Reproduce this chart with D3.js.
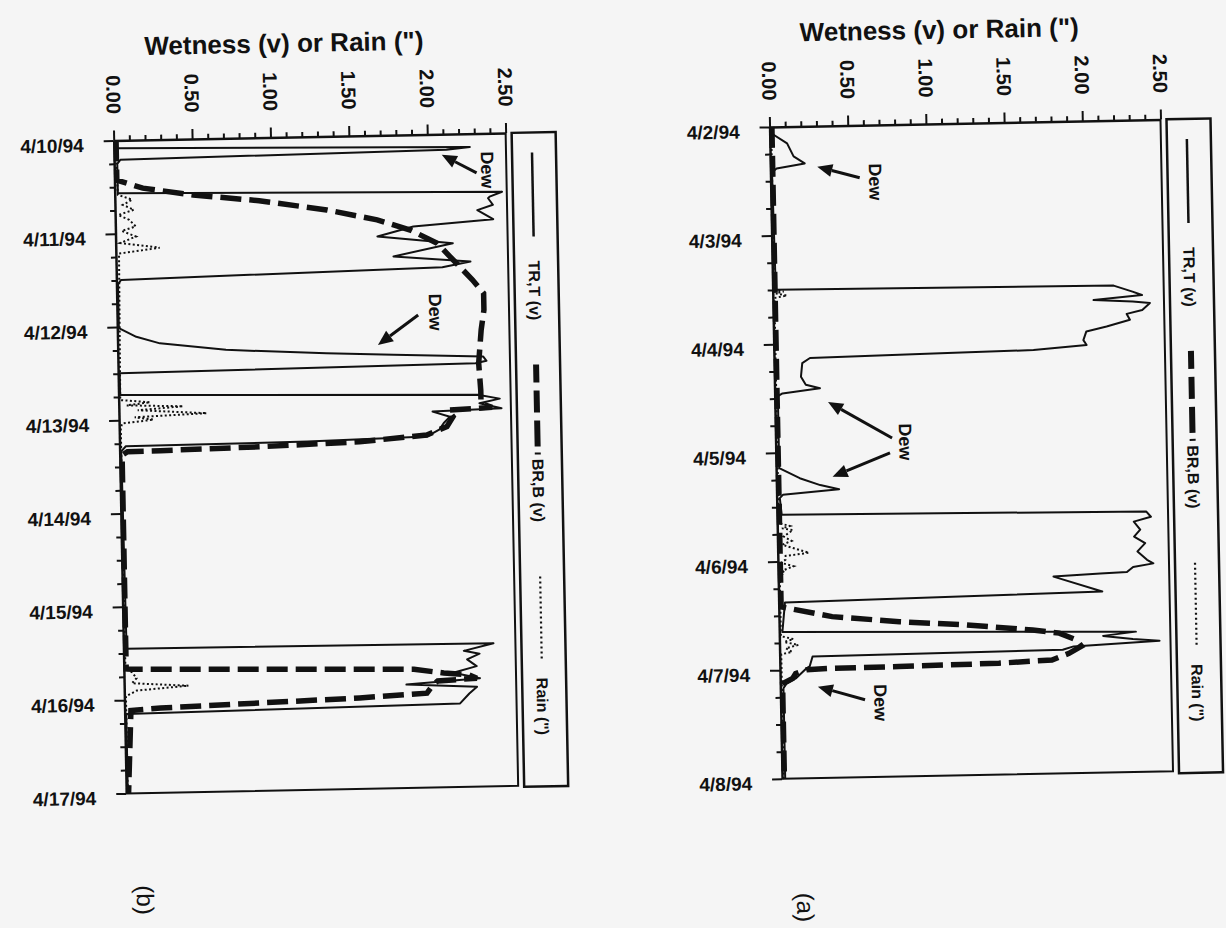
<!DOCTYPE html>
<html>
<head>
<meta charset="utf-8">
<script src="https://cdn.jsdelivr.net/npm/d3@7"></script>
<style>
  html, body { margin: 0; padding: 0; background: #f5f5f5; }
  svg { display: block; }
  text { font-family: "Liberation Sans", Arial, sans-serif; font-weight: bold; fill: #111; }
</style>
</head>
<body>
<svg id="chart" width="1226" height="928"></svg>
<script>
// time is in hours from the first date of each panel, values in volts / inches
var datesA = ["4/2/94", "4/3/94", "4/4/94", "4/5/94", "4/6/94", "4/7/94", "4/8/94"];
var datesB = ["4/10/94", "4/11/94", "4/12/94", "4/13/94", "4/14/94", "4/15/94", "4/16/94", "4/17/94"];
var wetTicks = [0, 0.5, 1, 1.5, 2, 2.5];
var legendNames = ["TR,T (v)", "BR,B (v)", "Rain (\")"];
var titleText = "Wetness (v) or Rain (\")";

var trtA = [[0,0.0],[1.4,0.01],[3.7,0.11],[6.6,0.15],[8.2,0.22],[9.2,0.04],[10,0.01],
  [36.0,0.02],[36.5,2.18],[37.9,2.30],[38.7,2.36],[39.6,2.05],[40.1,2.30],[40.5,2.41],[42.0,2.36],[42.8,2.26],
  [44.1,2.28],[45.5,2.13],[46.5,2.00],[48.4,1.98],[49.5,2.00],[50.4,1.66],[50.7,1.02],[51.2,0.23],[52.3,0.18],
  [55.3,0.17],[57.1,0.20],[57.9,0.29],[58.9,0.05],[59.5,0.02],
  [75.4,0.02],[77.7,0.15],[79.3,0.28],[80.3,0.40],[81.3,0.04],[82,0.02],
  [85.7,0.03],[86.5,2.36],[87.7,2.39],[88.7,2.28],[90.5,2.32],[92.0,2.28],[93.5,2.35],[95.3,2.30],[97.2,2.36],
  [98.0,2.40],[98.7,2.27],[99.8,2.23],[100.0,2.06],[100.5,1.76],[104.0,2.07],[105.1,0.04],
  [111.6,0.02],[113.0,2.28],[113.8,2.07],[114.6,2.26],[115.1,2.43],[116.0,1.88],[116.7,1.81],[117.1,0.21],
  [119.3,0.19],[119.7,0.17],[121.9,0.10],[123.0,0.04],[124,0.02],[144,0.02]];
var brbA = [[0,0.015],[106,0.015],[106.3,0.05],[108.4,0.34],[109.8,0.77],[110.8,1.20],[112.2,1.62],[113.0,1.79],
  [114.6,1.90],[116,1.93],[117.5,1.85],[118.9,1.74],[119.4,1.40],[119.7,0.76],[119.8,0.33],[120.0,0.17],
  [120.8,0.10],[121.9,0.08],[123,0.015],[144,0.015]];
var rainA = [[0,0.01],[36.0,0.01],[36.4,0.07],[36.8,0.02],[37.3,0.09],[37.8,0.01],
  [87.5,0.01],[88.2,0.08],[88.7,0.03],[89.1,0.10],[90.5,0.04],[91.5,0.09],[92.3,0.03],[93.0,0.09],[94.2,0.20],
  [94.8,0.05],[95.6,0.05],[96.3,0.02],[97.1,0.10],[98.0,0.03],[98.6,0.04],[99.2,0.01],
  [112.5,0.01],[113.2,0.09],[113.8,0.03],[114.5,0.12],[115.2,0.04],[116.0,0.08],[116.5,0.01],[144,0.01]];

var trtB = [[0,0.02],[2.0,0.02],[3.45,2.27],[4.0,2.12],[5.0,0.04],[6,0.02],
  [13.6,0.02],[15.1,2.47],[16.3,2.39],[16.7,2.38],[18.4,2.41],[19.7,2.31],[22.1,2.41],[23.6,1.90],[26.0,1.67],
  [28.1,2.15],[31.2,1.77],[32.9,2.26],[34.2,2.08],[35.9,0.03],[37,0.01],
  [48.3,0.01],[50.6,0.12],[52.4,0.27],[54.4,0.69],[55.8,1.33],[56.5,1.76],[57.4,2.33],[58.5,2.35],[59.1,2.28],[59.9,0.01],
  [65.5,0.01],[67.2,2.29],[68.3,2.43],[69.4,2.30],[70.8,2.44],[71.3,2.00],[72.7,2.11],[74.3,2.07],[76.0,2.04],
  [77.7,1.96],[78.4,1.2],[78.7,0.04],[80,0.01],
  [130.8,0.02],[131.2,2.36],[133.0,2.17],[133.8,2.27],[135.2,2.19],[137,2.25],[138.6,2.1],[140.1,2.27],
  [141.4,1.80],[142.3,2.25],[144,2.2],[146.5,2.14],[147.6,0.01],[168,0.01]];
var brbB = [[0,0.015],[10.2,0.015],[12.4,0.18],[14.4,0.50],[16.2,0.92],[18.9,1.35],[21.7,1.67],[24.5,1.88],
  [28.0,2.05],[31.5,2.13],[34.1,2.19],[37.6,2.27],[41.1,2.34],[45.4,2.34],[50.5,2.32],[59.1,2.30],[66.1,2.31],
  [69.5,2.31],[70.5,2.38],[71.0,2.10],[72.7,2.13],[75.2,2.09],[77.3,1.96],[78.7,1.53],[79.5,0.89],[80.0,0.26],
  [80.1,0.05],[81,0.015],
  [136.0,0.015],[136.1,0.05],[137.5,1.85],[138.6,2.04],[139.2,2.2],[140.1,2.25],[140.6,2.0],[141.6,1.97],
  [143.7,1.93],[144.6,1.50],[145.4,0.86],[146.2,0.23],[146.7,0.04],[168,0.015]];
var rainB = [[0,0.01],[14.0,0.02],[15.3,0.11],[16.6,0.05],[17.9,0.12],[19.2,0.02],[20.5,0.09],[22.2,0.13],
  [23.3,0.04],[24.8,0.13],[26.4,0.03],[27.8,0.28],[29.1,0.02],
  [66.8,0.01],[67.5,0.2],[68.2,0.05],[68.7,0.41],[69.5,0.12],[70.6,0.56],[71.3,0.10],[72.0,0.22],[72.8,0.02],[73.9,0.01],
  [136,0.01],[136.8,0.05],[138.4,0.08],[139.7,0.05],[140.6,0.41],[141.6,0.08],[142.4,0.04],[143,0.01],[168,0.01]];

// "Dew" notes: label at [value, hour], arrows [v1, h1, v2, h2] pointing to v2,h2
var dewA = [
  {at: [0.67, 12.6], arrows: [[0.57, 11.6, 0.30, 9.0]]},
  {at: [0.83, 70.1], arrows: [[0.745, 69.2, 0.34, 61.0], [0.73, 72.5, 0.36, 77.5]]},
  {at: [0.64, 127.6], arrows: [[0.54, 126.9, 0.24, 123.8]]}
];
var dewB = [
  {at: [2.38, 9.4], arrows: [[2.31, 10.1, 2.09, 5.3]]},
  {at: [2.03, 45.7], arrows: [[1.92, 46.4, 1.66, 53.9]]}
];

var panels = [
  {name: "(b)", dates: datesB, trt: trtB, brb: brbB, rain: rainB, dew: dewB,
   left: 120, right: 512, top: 131, bottom: 784, tagX: 137, tagY: 891},
  {name: "(a)", dates: datesA, trt: trtA, brb: brbA, rain: rainA, dew: dewA,
   left: 776, right: 1167, top: 130, bottom: 782, tagX: 797, tagY: 911}
];

var ink = "#111";
var svg = d3.select("#chart");
svg.append("rect").attr("width", 1226).attr("height", 928).attr("fill", "#f5f5f5");
// the scanned page sits a little crooked
var page = svg.append("g").attr("transform", "rotate(-1.1,613,464)");

panels.forEach(function (p) { drawPanel(page.append("g"), p); });

function drawPanel(g, p) {
    var hours = (p.dates.length - 1) * 24;
    var x = d3.scaleLinear().domain([0, 2.5]).range([p.left, p.right]);
    var y = d3.scaleLinear().domain([0, hours]).range([p.top, p.bottom]);

    // title
    g.append("text")
        .attr("x", (p.left + p.right) / 2 - 24)
        .attr("y", p.top - 85)
        .attr("text-anchor", "middle")
        .style("font-size", "26px")
        .text(titleText);

    // frame right and bottom
    g.append("path")
        .attr("d", "M" + p.right + "," + p.top + "V" + p.bottom + "H" + p.left)
        .attr("fill", "none").attr("stroke", ink).attr("stroke-width", 2);

    // top axis, major + minor
    var minorX = d3.range(0, 26).map(function (i) { return i / 10; }).filter(function (d, i) { return i % 5 !== 0; });
    var topMinor = g.append("g").attr("transform", "translate(0," + p.top + ")")
        .call(d3.axisTop(x).tickValues(minorX).tickSize(5).tickSizeOuter(0).tickFormat(""));
    topMinor.select(".domain").remove();
    var topMajor = g.append("g").attr("transform", "translate(0," + p.top + ")")
        .call(d3.axisTop(x).tickValues(wetTicks).tickSize(10).tickSizeOuter(0).tickFormat(d3.format(".2f")));
    topMajor.selectAll("text")
        .attr("x", 0).attr("y", 0).attr("dy", "0.35em")
        .attr("text-anchor", "middle")
        .attr("transform", "translate(0,-46) rotate(90)")
        .style("font-size", "20px").style("font-family", "Liberation Sans, Arial, sans-serif").attr("fill", ink);

    // left date axis
    var minorY = d3.range(0, hours + 1, 6).filter(function (d) { return d % 24 !== 0; });
    var leftMinor = g.append("g").attr("transform", "translate(" + p.left + ",0)")
        .call(d3.axisLeft(y).tickValues(minorY).tickSize(5).tickSizeOuter(0).tickFormat(""));
    leftMinor.select(".domain").remove();
    var leftMajor = g.append("g").attr("transform", "translate(" + p.left + ",0)")
        .call(d3.axisLeft(y).tickValues(d3.range(0, hours + 1, 24)).tickSize(10).tickSizeOuter(0)
            .tickPadding(20).tickFormat(function (d) { return p.dates[d / 24]; }));
    leftMajor.selectAll("text").attr("dy", "0.55em")
        .style("font-size", "19px").style("font-family", "Liberation Sans, Arial, sans-serif").attr("fill", ink);

    [topMinor, topMajor, leftMinor, leftMajor].forEach(function (a) {
        a.selectAll("line").attr("stroke", ink).attr("stroke-width", 2);
        a.selectAll(".domain").attr("stroke", ink).attr("stroke-width", 2.5);
    });

    // series
    var line = d3.line().x(function (d) { return x(d[1]); }).y(function (d) { return y(d[0]); });
    g.append("path").datum(p.rain).attr("d", line)
        .attr("fill", "none").attr("stroke", ink).attr("stroke-width", 2).attr("stroke-dasharray", "2,2.4");
    g.append("path").datum(p.trt).attr("d", line)
        .attr("fill", "none").attr("stroke", ink).attr("stroke-width", 2).attr("stroke-linejoin", "round");
    g.append("path").datum(p.brb).attr("d", line)
        .attr("fill", "none").attr("stroke", ink).attr("stroke-width", 5.5).attr("stroke-dasharray", "21,8");

    // Dew labels with arrows
    p.dew.forEach(function (d) {
        g.append("text")
            .attr("transform", "translate(" + x(d.at[0]) + "," + y(d.at[1]) + ") rotate(90)")
            .attr("text-anchor", "middle").attr("dy", "0.35em")
            .style("font-size", "18px")
            .text("Dew");
        d.arrows.forEach(function (a) {
            var x1 = x(a[0]), y1 = y(a[1]), x2 = x(a[2]), y2 = y(a[3]);
            var ang = Math.atan2(y2 - y1, x2 - x1), len = 15, w = 6.5;
            var bx = x2 - len * Math.cos(ang), by = y2 - len * Math.sin(ang);
            g.append("line").attr("x1", x1).attr("y1", y1).attr("x2", bx).attr("y2", by)
                .attr("stroke", ink).attr("stroke-width", 3);
            g.append("path")
                .attr("d", "M" + x2 + "," + y2 +
                    "L" + (bx - w * Math.sin(ang)) + "," + (by + w * Math.cos(ang)) +
                    "L" + (bx + w * Math.sin(ang)) + "," + (by - w * Math.cos(ang)) + "Z")
                .attr("fill", ink);
        });
    });

    // legend box
    var lg = g.append("g").attr("transform", "translate(" + (p.right + 6) + "," + p.top + ")");
    lg.append("rect").attr("width", 44).attr("height", 654)
        .attr("fill", "none").attr("stroke", ink).attr("stroke-width", 2.5);
    var cx = 20;
    lg.append("line").attr("x1", cx).attr("x2", cx).attr("y1", 20).attr("y2", 104)
        .attr("stroke", ink).attr("stroke-width", 2.5);
    lg.append("line").attr("x1", cx).attr("x2", cx).attr("y1", 232).attr("y2", 322)
        .attr("stroke", ink).attr("stroke-width", 6).attr("stroke-dasharray", "18,8,22,8,26,6,3,20");
    lg.append("line").attr("x1", cx).attr("x2", cx).attr("y1", 444).attr("y2", 529)
        .attr("stroke", ink).attr("stroke-width", 2.2).attr("stroke-dasharray", "2,3");
    [158, 358, 574].forEach(function (ty, i) {
        lg.append("text")
            .attr("transform", "translate(" + cx + "," + ty + ") rotate(90)")
            .attr("text-anchor", "middle").attr("dy", "0.35em")
            .style("font-size", "16px")
            .text(legendNames[i]);
    });

    // panel tag
    g.append("text")
        .attr("transform", "translate(" + p.tagX + "," + p.tagY + ") rotate(90)")
        .attr("text-anchor", "middle").attr("dy", "0.35em")
        .style("font-size", "24px").style("font-weight", "normal")
        .text(p.name);
}
</script>
</body>
</html>
